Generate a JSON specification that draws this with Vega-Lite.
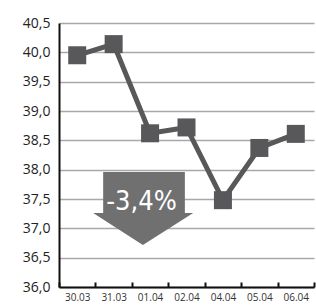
{
  "$schema": "https://vega.github.io/schema/vega-lite/v6.json",
  "width": 255,
  "height": 264,
  "autosize": {"type": "none"},
  "padding": {"left": 59, "top": 23, "right": 2, "bottom": 21},
  "background": "white",
  "config": {
    "view": {"stroke": null},
    "font": "Open Sans"
  },
  "layer": [
    {
      "data": {"values": [{"date": "01.04", "value": 37.5, "label": "-3,4%"}]},
      "mark": {
        "type": "point",
        "filled": true,
        "opacity": 1,
        "color": "#707071",
        "strokeWidth": 0,
        "size": 10000,
        "shape": "M-0.938,-0.54 L0.696,-0.54 L0.696,0.28 L0.862,0.28 L-0.144,0.92 L-1.138,0.28 L-0.938,0.28 Z"
      },
      "encoding": {
        "x": {"field": "date", "type": "ordinal"},
        "y": {"field": "value", "type": "quantitative"}
      }
    },
    {
      "data": {"values": [{"date": "01.04", "value": 37.5, "label": "-3,4%"}]},
      "mark": {
        "type": "text",
        "color": "white",
        "font": "Liberation Sans Narrow, DejaVu Sans Condensed, sans-serif",
        "fontSize": 27,
        "align": "center",
        "baseline": "alphabetic",
        "dx": -8.5,
        "dy": 11
      },
      "encoding": {
        "x": {"field": "date", "type": "ordinal"},
        "y": {"field": "value", "type": "quantitative"},
        "text": {"field": "label"}
      }
    },
    {
      "data": {"name": "main", "values": [
        {"date": "30.03", "value": 39.95},
        {"date": "31.03", "value": 40.14},
        {"date": "01.04", "value": 38.62},
        {"date": "02.04", "value": 38.72},
        {"date": "04.04", "value": 37.48},
        {"date": "05.04", "value": 38.37},
        {"date": "06.04", "value": 38.61}
      ]},
      "layer": [
        {
          "mark": {"type": "line", "color": "#58585a", "strokeWidth": 5},
          "encoding": {
            "x": {"field": "date", "type": "ordinal", "sort": null},
            "y": {"field": "value", "type": "quantitative"}
          }
        },
        {
          "mark": {"type": "point", "shape": "square", "filled": true, "opacity": 1, "size": 324, "color": "#58585a"},
          "encoding": {
            "x": {"field": "date", "type": "ordinal", "sort": null},
            "y": {"field": "value", "type": "quantitative"}
          }
        }
      ]
    }
  ],
  "encoding": {
    "x": {
      "field": "date",
      "type": "ordinal",
      "sort": ["30.03", "31.03", "01.04", "02.04", "04.04", "05.04", "06.04"],
      "scale": {"domain": ["30.03", "31.03", "01.04", "02.04", "04.04", "05.04", "06.04"], "paddingInner": 0, "paddingOuter": 0},
      "axis": {
        "title": null,
        "labelAngle": 0,
        "labelFont": "Open Sans",
        "labelFontSize": 10,
        "labelColor": "#333333",
        "labelPadding": 10,
        "domainColor": "#111",
        "domainWidth": 2,
        "tickColor": "#111",
        "tickWidth": 2,
        "tickSize": -5,
        "tickBand": "extent",
        "grid": false
      }
    },
    "y": {
      "field": "value",
      "type": "quantitative",
      "scale": {"domain": [36, 40.5], "nice": false, "zero": false},
      "axis": {
        "title": null,
        "values": [36, 36.5, 37, 37.5, 38, 38.5, 39, 39.5, 40, 40.5],
        "labelExpr": "replace(format(datum.value, '.1f'), '.', ',')",
        "labelFont": "Open Sans",
        "labelFontSize": 14,
        "labelColor": "#222",
        "labelPadding": 9,
        "ticks": false,
        "domainColor": "#111",
        "domainWidth": 2,
        "grid": true,
        "gridColor": "#a8a8a8",
        "gridWidth": 1.5
      }
    }
  }
}
